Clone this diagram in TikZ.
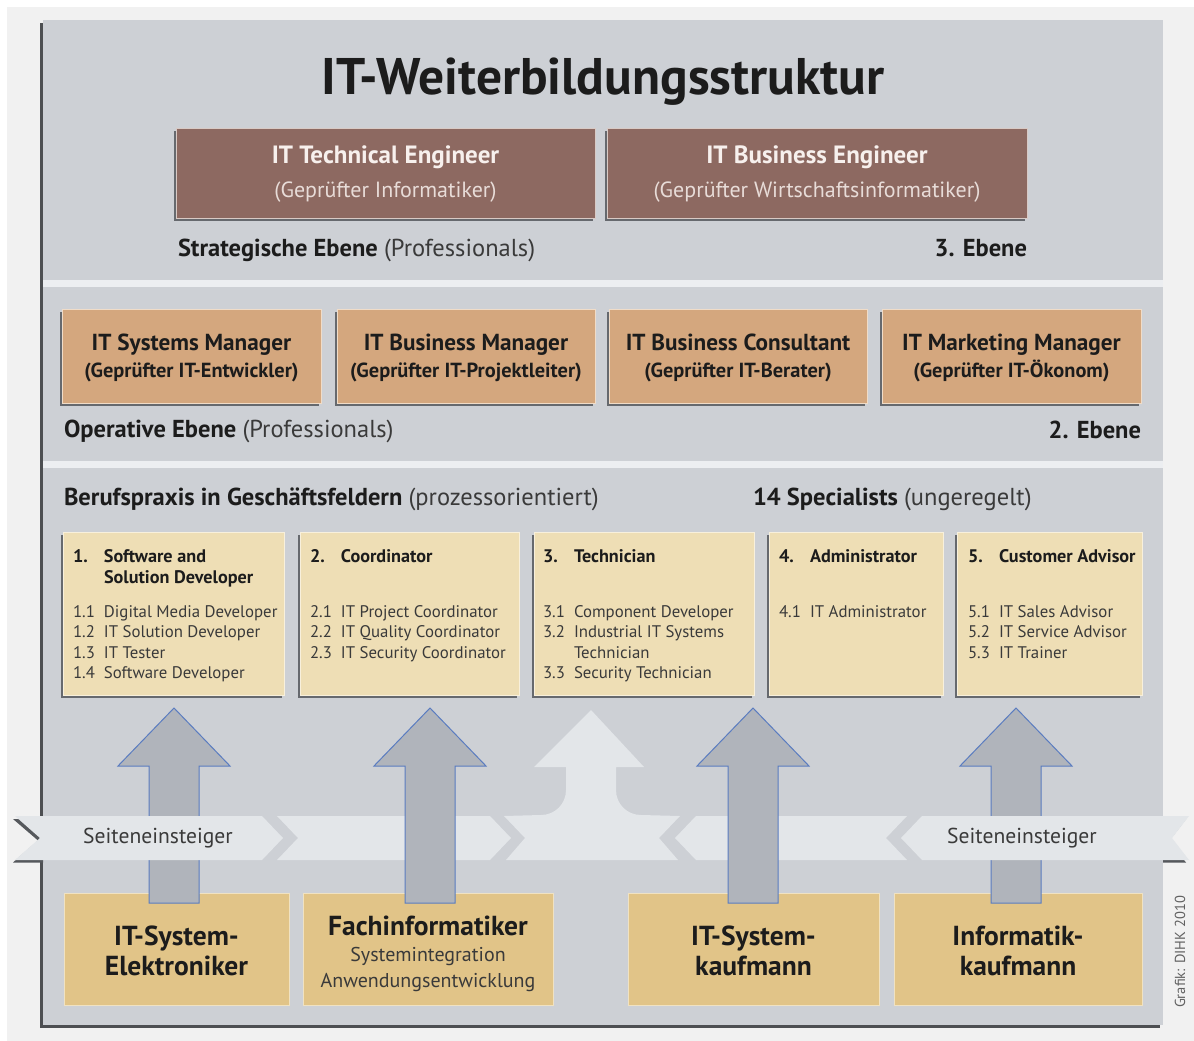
\documentclass[tikz,border=0pt]{standalone}
\usepackage{fontspec}
\setmainfont{PT Sans}
\usetikzlibrary{shadows}
\definecolor{cBg}{HTML}{F1F1F1}
\definecolor{cPanel}{HTML}{CDD0D5}
\definecolor{cPanelShadow}{HTML}{4D4F52}
\definecolor{cSep}{HTML}{ECEEF1}
\definecolor{cBrown}{HTML}{8D6961}
\definecolor{cBrownEdge}{HTML}{D8CAC5}
\definecolor{cBrownText}{HTML}{F7F0ED}
\definecolor{cBrownSub}{HTML}{E8DCD8}
\definecolor{cTan}{HTML}{D4A77E}
\definecolor{cTanEdge}{HTML}{F0DCC8}
\definecolor{cCream}{HTML}{EEDEB5}
\definecolor{cCreamEdge}{HTML}{F8F0DC}
\definecolor{cLow}{HTML}{E1C488}
\definecolor{cLowEdge}{HTML}{F0E2C2}
\definecolor{cBand}{HTML}{E3E6E9}
\definecolor{cArrow}{HTML}{B0B4BB}
\definecolor{cArrowEdge}{HTML}{5A7CC0}
\definecolor{cDark}{HTML}{1C1C1C}
\definecolor{cMid}{HTML}{3A3A3A}
\definecolor{cShadow}{HTML}{55585C}
\newcommand\fsz[2]{\fontsize{#1}{#2}\selectfont}
\newcommand\paren[1]{\mdseries\color{cMid}#1}
\newcommand\nm[1]{\makebox[31pt][l]{#1}}
\begin{document}
\begin{tikzpicture}[x=1pt,y=-1pt,
  boxbase/.style={rectangle, inner sep=0pt, outer sep=0pt, line width=0.8pt},
  shad/.style={drop shadow={shadow xshift=-2.5pt, shadow yshift=-3pt, fill=cShadow, opacity=0.85}},
  brownbox/.style={boxbase, shad, fill=cBrown, draw=cBrownEdge},
  tanbox/.style={boxbase, shad, fill=cTan, draw=cTanEdge},
  creambox/.style={boxbase, shad, fill=cCream, draw=cCreamEdge},
  lowbox/.style={boxbase, fill=cLow, draw=cLowEdge},
  txt/.style={inner sep=0pt, outer sep=0pt, anchor=base, text=cDark},
  band/.style={fill=cBand},
  blockarrow/.style={fill=cArrow, draw=cArrowEdge, line width=1pt, line join=miter},
  lvl/.style={txt, font=\bfseries\fsz{24.5}{28}},
  hd/.style={txt, anchor=base west, font=\bfseries\fsz{18.2}{21}},
  it/.style={txt, anchor=base west, text=cMid, font=\fsz{16.8}{20.5}},
  lt/.style={txt, font=\bfseries\fsz{27.5}{32}},
  ls/.style={txt, text=cMid, font=\fsz{20}{26}},
]
\useasboundingbox (0,0) rectangle (1194,1041);
% background
\fill[white] (0,0) rectangle (1194,1041);
\fill[cBg] (7,7) rectangle (1194,1041);
% panel
\fill[cPanelShadow] (40,23) rectangle (1160,1028);
\fill[cPanel] (43,20) rectangle (1163,1025);
\fill[cSep] (43,280) rectangle (1163,287);
\fill[cSep] (43,461) rectangle (1163,468);

% title
\node[txt, font=\bfseries\fsz{51.5}{60}] (title) at (603,95) {IT-Weiterbildungsstruktur};

% strategic level
\node[brownbox, minimum width=419pt, minimum height=90pt] (te) at (385.5,173) {};
\node[brownbox, minimum width=420pt, minimum height=90pt] (be) at (817,173) {};
\node[txt, text=cBrownText, font=\bfseries\fsz{25}{28}] (teT) at (385.5,163) {IT Technical Engineer};
\node[txt, text=cBrownSub, font=\fsz{22}{26}] (teS) at (385.5,197) {(Geprüfter Informatiker)};
\node[txt, text=cBrownText, font=\bfseries\fsz{25}{28}] (beT) at (817,163) {IT Business Engineer};
\node[txt, text=cBrownSub, font=\fsz{22}{26}] (beS) at (817,197) {(Geprüfter Wirtschaftsinformatiker)};
\node[lvl, anchor=base west] (strat) at (178,256) {Strategische Ebene \paren{(Professionals)}};
\node[lvl, anchor=base east] (e3) at (1027,256) {3. Ebene};

% operative level
\node[tanbox, minimum width=259pt, minimum height=94pt] (m1) at (191.5,356) {};
\node[tanbox, minimum width=258pt, minimum height=94pt] (m2) at (466,356) {};
\node[tanbox, minimum width=258pt, minimum height=94pt] (m3) at (738,356) {};
\node[tanbox, minimum width=259pt, minimum height=94pt] (m4) at (1011.5,356) {};
\tikzset{mt/.style={txt, font=\bfseries\fsz{23.2}{28}}, ms/.style={txt, font=\bfseries\fsz{20.4}{25}}}
\node[mt] (m1T) at (191.5,350) {IT Systems Manager};
\node[ms] (m1S) at (191.5,377) {(Geprüfter IT-Entwickler)};
\node[mt] (m2T) at (466,350) {IT Business Manager};
\node[ms] (m2S) at (466,377) {(Geprüfter IT-Projektleiter)};
\node[mt] (m3T) at (738,350) {IT Business Consultant};
\node[ms] (m3S) at (738,377) {(Geprüfter IT-Berater)};
\node[mt] (m4T) at (1011.5,350) {IT Marketing Manager};
\node[ms] (m4S) at (1011.5,377) {(Geprüfter IT-Ökonom)};
\node[lvl, anchor=base west] (oper) at (64,437) {Operative Ebene \paren{(Professionals)}};
\node[lvl, anchor=base east] (e2) at (1141,438) {2. Ebene};

% specialists
\node[lvl, anchor=base west] (beruf) at (64,505) {Berufspraxis in Geschäftsfeldern \paren{(prozessorientiert)}};
\node[lvl, anchor=base west] (spec) at (753,505) {14 Specialists \paren{(ungeregelt)}};

\node[creambox, minimum width=221pt, minimum height=163pt] (c1) at (173.5,613.5) {};
\node[creambox, minimum width=219pt, minimum height=163pt] (c2) at (409.5,613.5) {};
\node[creambox, minimum width=220pt, minimum height=163pt] (c3) at (644,613.5) {};
\node[creambox, minimum width=174pt, minimum height=163pt] (c4) at (856,613.5) {};
\node[creambox, minimum width=185pt, minimum height=163pt] (c5) at (1049.5,613.5) {};

\node[hd] (c1h) at (73,562) {\begin{tabular}[t]{@{}l@{}}\nm{1.}Software and\\\nm{}Solution Developer\end{tabular}};
\node[it] (c1i) at (73,617) {\begin{tabular}[t]{@{}l@{}}\nm{1.1}Digital Media Developer\\\nm{1.2}IT Solution Developer\\\nm{1.3}IT Tester\\\nm{1.4}Software Developer\end{tabular}};
\node[hd] (c2h) at (310,562) {\nm{2.}Coordinator};
\node[it] (c2i) at (310,617) {\begin{tabular}[t]{@{}l@{}}\nm{2.1}IT Project Coordinator\\\nm{2.2}IT Quality Coordinator\\\nm{2.3}IT Security Coordinator\end{tabular}};
\node[hd] (c3h) at (543,562) {\nm{3.}Technician};
\node[it] (c3i) at (543,617) {\begin{tabular}[t]{@{}l@{}}\nm{3.1}Component Developer\\\nm{3.2}Industrial IT Systems\\\nm{}Technician\\\nm{3.3}Security Technician\end{tabular}};
\node[hd] (c4h) at (779,562) {\nm{4.}Administrator};
\node[it] (c4i) at (779,617) {\nm{4.1}IT Administrator};
\node[hd] (c5h) at (968,562) {\nm{5.}Customer Advisor};
\node[it] (c5i) at (968,617) {\begin{tabular}[t]{@{}l@{}}\nm{5.1}IT Sales Advisor\\\nm{5.2}IT Service Advisor\\\nm{5.3}IT Trainer\end{tabular}};

% lower (apprenticeship) boxes
\node[lowbox, minimum width=225pt, minimum height=112pt] (L1) at (176.5,949) {};
\node[lowbox, minimum width=250pt, minimum height=112pt] (L2) at (428,949) {};
\node[lowbox, minimum width=251pt, minimum height=112pt] (L3) at (753.5,949) {};
\node[lowbox, minimum width=248pt, minimum height=112pt] (L4) at (1018,949) {};
\node[lt] (L1a) at (176.5,945) {IT-System-};
\node[lt] (L1b) at (176.5,975) {Elektroniker};
\node[lt] (L2a) at (428,935) {Fachinformatiker};
\node[ls] (L2b) at (428,961) {Systemintegration};
\node[ls] (L2c) at (428,987) {Anwendungsentwicklung};
\node[lt] (L3a) at (753.5,945) {IT-System-};
\node[lt] (L3b) at (753.5,975) {kaufmann};
\node[lt] (L4a) at (1018,945) {Informatik-};
\node[lt] (L4b) at (1018,975) {kaufmann};

% central light arrow and inner band segments
\fill[band] (591,710) -- (644,767) -- (616,767) -- (616,790)
  .. controls (616,804) and (627,815) .. (641,815) -- (680,816) -- (659,838) -- (678,860)
  -- (506,860) -- (525,838) -- (504,816) -- (541,815)
  .. controls (555,815) and (566,804) .. (566,790) -- (566,767) -- (534,767) -- cycle;
\fill[band] (277,816) -- (490,816) -- (511,838) -- (490,860) -- (277,860) -- (298,838) -- cycle;
\fill[band] (696,816) -- (907,816) -- (886,838) -- (907,860) -- (696,860) -- (675,838) -- cycle;

% block arrows
\foreach \ax in {174,430,753,1016}{
  \filldraw[blockarrow] (\ax,708) -- (\ax+56,766) -- (\ax+25,766) -- (\ax+25,903)
    -- (\ax-25,903) -- (\ax-25,766) -- (\ax-56,766) -- cycle;
}

% outer band segments (lie over the arrows)
\begin{scope}
  \clip (0,800) rectangle (43,880);
  \fill[cShadow] (13,819) -- (60,819) -- (60,862.5) -- (13,862.5) -- (38,840.5) -- cycle;
\end{scope}
\begin{scope}
  \clip (1163,800) rectangle (1194,880);
  \fill[cShadow] (1150,819) -- (1186,819) -- (1169,841) -- (1186,862.5) -- (1150,862.5) -- cycle;
\end{scope}
\fill[band] (15,816) -- (262,816) -- (283,838) -- (262,860) -- (15,860) -- (40,838) -- cycle;
\fill[band] (922,816) -- (1189,816) -- (1172,838) -- (1189,860) -- (922,860) -- (901,838) -- cycle;

\node[txt, text=cMid, font=\fsz{21.6}{26}] (s1) at (158,843) {Seiteneinsteiger};
\node[txt, text=cMid, font=\fsz{21.6}{26}] (s2) at (1022,843) {Seiteneinsteiger};

\node[inner sep=0pt, rotate=90, text=cMid!80, font=\fsz{14.5}{16}] (cred) at (1180,952) {Grafik: DIHK 2010};
\end{tikzpicture}
\end{document}
